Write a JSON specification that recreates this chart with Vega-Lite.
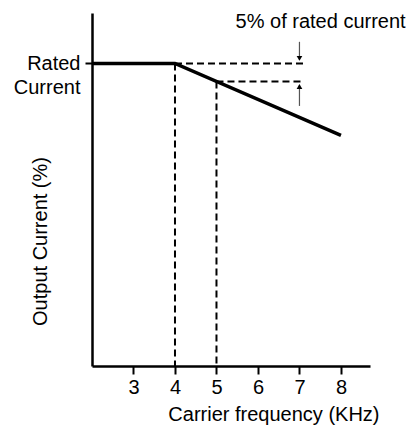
{
  "$schema": "https://vega.github.io/schema/vega-lite/v6.json",
  "width": 278,
  "height": 353,
  "autosize": {"type": "none"},
  "padding": {"left": 92, "top": 13, "right": 44, "bottom": 59},
  "background": "white",
  "view": {"stroke": null},
  "config": {"font": "Liberation Sans"},
  "datasets": {
    "main": [
      {"f": 2, "c": 100},
      {"f": 4, "c": 100},
      {"f": 8, "c": 80}
    ],
    "dashed": [
      {"f": 4, "f2": 7.1, "c": 100, "c2": 100},
      {"f": 5, "f2": 7.1, "c": 95, "c2": 95},
      {"f": 4, "f2": 4, "c": 100, "c2": 16},
      {"f": 5, "f2": 5, "c": 95, "c2": 16}
    ],
    "arrows": [
      {"f": 7, "c": 106, "c2": 101},
      {"f": 7, "c": 88.2, "c2": 94}
    ],
    "heads": [
      {"f": 7, "c": 101.4, "dir": "down"},
      {"f": 7, "c": 93.6, "dir": "up"}
    ],
    "note": [
      {"f": 7.51, "c": 111.5, "label": "5% of rated current"}
    ]
  },
  "layer": [
    {
      "data": {"name": "dashed"},
      "mark": {"type": "rule", "strokeDash": [7, 4], "strokeWidth": 2, "color": "black"},
      "encoding": {
        "x": {"field": "f", "type": "quantitative", "scale": {"domain": [2, 8.7], "nice": false, "zero": false},
          "axis": {"values": [3, 4, 5, 6, 7, 8], "title": "Carrier frequency (KHz)", "grid": false,
            "domainColor": "black", "domainWidth": 2.5, "tickColor": "black", "tickWidth": 2, "tickSize": 8,
            "labelFontSize": 20, "labelColor": "black", "labelPadding": 3, "labelFont": "Liberation Sans",
            "titleFontSize": 20, "titleFontWeight": "normal", "titleColor": "black", "titleFont": "Liberation Sans",
            "titleAnchor": "end", "titleAlign": "right", "titleBaseline": "alphabetic", "titleX": 287, "titleY": 54}},
        "x2": {"field": "f2"},
        "y": {"field": "c", "type": "quantitative", "scale": {"domain": [16, 114], "nice": false, "zero": false},
          "axis": {"values": [100], "labelExpr": "['Rated', 'Current']", "grid": false,
            "domainColor": "black", "domainWidth": 2.5, "tickColor": "black", "tickWidth": 2, "tickSize": 7,
            "labelFontSize": 20, "labelColor": "black", "labelPadding": 5, "labelLineHeight": 24,
            "labelBaseline": "middle", "labelOffset": 0, "labelFont": "Liberation Sans",
            "title": "Output Current (%)", "titleFontSize": 20, "titleFontWeight": "normal", "titleColor": "black",
            "titleFont": "Liberation Sans", "titleAngle": -90, "titleX": -52, "titleY": 228,
            "titleAlign": "center", "titleBaseline": "middle", "titleAnchor": null}},
        "y2": {"field": "c2"}
      }
    },
    {
      "data": {"name": "main"},
      "mark": {"type": "line", "color": "black", "strokeWidth": 3.5},
      "encoding": {
        "x": {"field": "f", "type": "quantitative"},
        "y": {"field": "c", "type": "quantitative"}
      }
    },
    {
      "data": {"name": "arrows"},
      "mark": {"type": "rule", "color": "#555555", "strokeWidth": 1.2},
      "encoding": {
        "x": {"field": "f", "type": "quantitative"},
        "y": {"field": "c", "type": "quantitative"},
        "y2": {"field": "c2"}
      }
    },
    {
      "data": {"name": "heads"},
      "mark": {"type": "point", "filled": true, "color": "black", "size": 32, "opacity": 1},
      "encoding": {
        "x": {"field": "f", "type": "quantitative"},
        "y": {"field": "c", "type": "quantitative"},
        "shape": {"field": "dir", "type": "nominal", "scale": {"domain": ["down", "up"], "range": ["triangle-down", "triangle-up"]}, "legend": null}
      }
    },
    {
      "data": {"name": "note"},
      "mark": {"type": "text", "fontSize": 20, "color": "black", "align": "center", "baseline": "middle", "font": "Liberation Sans"},
      "encoding": {
        "x": {"field": "f", "type": "quantitative"},
        "y": {"field": "c", "type": "quantitative"},
        "text": {"field": "label"}
      }
    }
  ]
}
